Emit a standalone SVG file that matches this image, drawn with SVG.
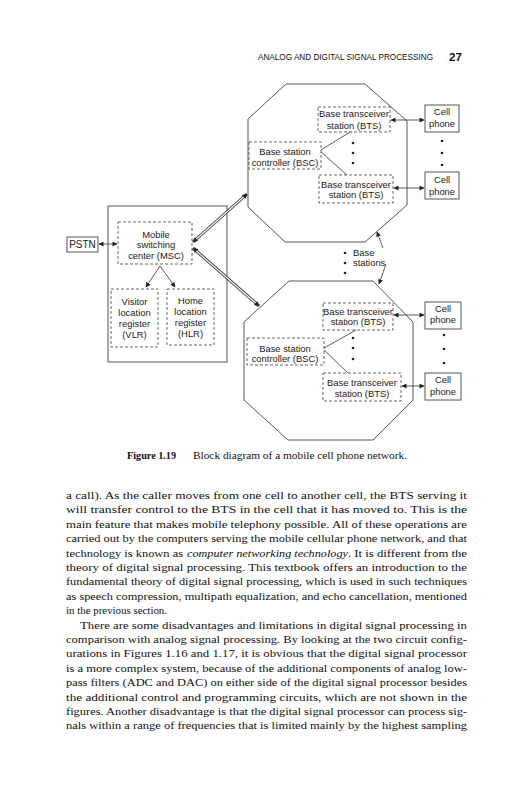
<svg xmlns="http://www.w3.org/2000/svg" width="528" height="800" viewBox="0 0 528 800">
<defs>
<marker id="ah" viewBox="0 0 10 10" refX="9" refY="5" markerWidth="6" markerHeight="5" markerUnits="userSpaceOnUse" orient="auto-start-reverse">
<path d="M0,0 L10,5 L0,10 z" fill="#222"/>
</marker>
<style>
.d{font-family:"Liberation Sans",Arial,sans-serif;font-size:9.4px;fill:#222;text-anchor:middle}
.b{font-family:"Liberation Serif","Times New Roman",serif;font-size:10.9px;fill:#111}
.dash{fill:none;stroke:#666;stroke-width:1;stroke-dasharray:3,2}
.solid{fill:none;stroke:#555;stroke-width:1}
.oct{fill:none;stroke:#444;stroke-width:0.9}
.ln{fill:none;stroke:#333;stroke-width:0.8}
.ar{fill:none;stroke:#333;stroke-width:0.8;marker-start:url(#ah);marker-end:url(#ah)}
.ar1{fill:none;stroke:#333;stroke-width:0.8;marker-end:url(#ah)}
.dbl{fill:none;stroke:#333;stroke-width:3}
.dbw{fill:none;stroke:#fff;stroke-width:1.2}
</style>
</defs>
<rect width="528" height="800" fill="#fff"/>

<!-- header -->
<text x="258" y="59.5" font-family="Liberation Sans,Arial,sans-serif" font-size="8.6" fill="#111" textLength="175" lengthAdjust="spacingAndGlyphs">ANALOG AND DIGITAL SIGNAL PROCESSING</text>
<text x="449" y="60.5" font-family="Liberation Sans,Arial,sans-serif" font-size="11.5" font-weight="bold" fill="#111">27</text>

<!-- octagons -->
<g id="cell-top">
<polygon class="oct" points="286,84 365,84 407,121 407,205 365,242 285,242 248,207 248,119"/>
</g>
<g id="cell-bottom">
<polygon class="oct" points="289,281 373,281 413,322 413,400 373,440 288,440 244,400 244,322"/>
</g>

<!-- MSC area -->
<g id="msc-area"><rect class="solid" x="108" y="206" width="119" height="156"/></g>
<g id="pstn"><rect class="solid" x="67" y="237" width="31" height="15"/><text class="d" x="82.5" y="248" style="font-size:10px">PSTN</text></g>
<g id="msc"><rect class="dash" x="118" y="222" width="74" height="42"/>
<text class="d" x="156" y="237.5">Mobile</text><text class="d" x="156" y="248">switching</text><text class="d" x="156" y="258.5">center (MSC)</text></g>
<g id="vlr"><rect class="dash" x="111" y="289" width="47" height="58"/>
<text class="d" x="134.5" y="304.5">Visitor</text><text class="d" x="134.5" y="315.5">location</text><text class="d" x="134.5" y="326.5">register</text><text class="d" x="134.5" y="337.5">(VLR)</text></g>
<g id="hlr"><rect class="dash" x="167" y="289" width="47" height="56"/>
<text class="d" x="190.5" y="303.5">Home</text><text class="d" x="190.5" y="314.5">location</text><text class="d" x="190.5" y="325.5">register</text><text class="d" x="190.5" y="336.5">(HLR)</text></g>

<!-- top cell contents -->
<g id="bts1"><rect class="dash" x="318" y="107" width="72" height="25"/>
<text class="d" x="354" y="116.5">Base transceiver</text><text class="d" x="354" y="129">station (BTS)</text></g>
<g id="bsc1"><rect class="dash" x="249" y="142" width="72" height="27"/>
<text class="d" x="285" y="154.5">Base station</text><text class="d" x="285" y="165.5">controller (BSC)</text></g>
<g id="bts2"><rect class="dash" x="319" y="175" width="74" height="28"/>
<text class="d" x="356" y="187.5">Base transceiver</text><text class="d" x="356" y="198">station (BTS)</text></g>
<g id="phone1"><rect class="solid" x="425" y="105" width="34" height="27"/>
<text class="d" x="442" y="115">Cell</text><text class="d" x="442" y="126.7">phone</text></g>
<g id="phone2"><rect class="solid" x="425" y="172" width="34" height="27"/>
<text class="d" x="442" y="183.3">Cell</text><text class="d" x="442" y="195">phone</text></g>

<!-- bottom cell contents -->
<g id="bts3"><rect class="dash" x="323" y="303" width="70" height="27"/>
<text class="d" x="358" y="315">Base transceiver</text><text class="d" x="358" y="325">station (BTS)</text></g>
<g id="bsc2"><rect class="dash" x="247" y="338" width="77" height="27"/>
<text class="d" x="285" y="351.5">Base station</text><text class="d" x="285" y="362">controller (BSC)</text></g>
<g id="bts4"><rect class="dash" x="323" y="373" width="78" height="28"/>
<text class="d" x="362" y="386">Base transceiver</text><text class="d" x="362" y="396.7">station (BTS)</text></g>
<g id="phone3"><rect class="solid" x="425" y="302" width="36" height="27"/>
<text class="d" x="443" y="311.7">Cell</text><text class="d" x="443" y="323.3">phone</text></g>
<g id="phone4"><rect class="solid" x="425" y="373" width="36" height="27"/>
<text class="d" x="443" y="383.3">Cell</text><text class="d" x="443" y="395">phone</text></g>

<!-- base stations label -->
<g id="base-stations-label">
<circle cx="345" cy="253" r="1.3" fill="#222"/><circle cx="345" cy="263" r="1.3" fill="#222"/><circle cx="345" cy="273" r="1.3" fill="#222"/>
<text x="353" y="256.3" font-family="Liberation Sans,Arial,sans-serif" font-size="9.4" fill="#222">Base</text>
<text x="353" y="266.3" font-family="Liberation Sans,Arial,sans-serif" font-size="9.4" fill="#222">stations</text>
</g>

<!-- dots -->
<g id="dots" fill="#222">
<circle cx="353" cy="143" r="1.3"/><circle cx="353" cy="153" r="1.3"/><circle cx="353" cy="163" r="1.3"/>
<circle cx="442" cy="141" r="1.3"/><circle cx="442" cy="153" r="1.3"/><circle cx="442" cy="165" r="1.3"/>
<circle cx="353" cy="338" r="1.3"/><circle cx="353" cy="348" r="1.3"/><circle cx="353" cy="359" r="1.3"/>
<circle cx="444" cy="335" r="1.3"/><circle cx="444" cy="349" r="1.3"/><circle cx="444" cy="363" r="1.3"/>
</g>

<!-- connectors -->
<g id="connectors">
<line class="ar" x1="99" y1="244" x2="117" y2="244"/>
<line class="ar1" x1="160" y1="266" x2="146" y2="287"/>
<line class="ar1" x1="160" y1="266" x2="175" y2="287"/>
<line class="dbl" x1="193" y1="242" x2="247" y2="194"/>
<line class="dbw" x1="193" y1="242" x2="247" y2="194"/>
<line class="ar" x1="193" y1="242" x2="247" y2="194" stroke-opacity="0"/>
<line class="dbl" x1="193" y1="248" x2="259" y2="306"/>
<line class="dbw" x1="193" y1="248" x2="259" y2="306"/>
<line class="ar" x1="193" y1="248" x2="259" y2="306" stroke-opacity="0"/>
<line class="ln" x1="321" y1="150" x2="350" y2="132"/>
<line class="ln" x1="321" y1="152" x2="347" y2="175"/>
<line class="ln" x1="324" y1="348" x2="356" y2="330"/>
<line class="ln" x1="324" y1="350" x2="348" y2="373"/>
<line class="ar" x1="391" y1="120" x2="424" y2="120"/>
<line class="ar" x1="394" y1="188" x2="424" y2="188"/>
<line class="ar" x1="394" y1="315" x2="424" y2="315"/>
<line class="ar" x1="402" y1="386" x2="424" y2="386"/>
<line class="ar1" x1="383" y1="248" x2="377" y2="232"/>
<line class="ar1" x1="386" y1="264" x2="379" y2="284"/>
</g>

<!-- caption -->
<text x="127" y="459" font-family="Liberation Serif,Times New Roman,serif" font-size="10.2" font-weight="bold" fill="#111">Figure 1.19</text>
<text x="193" y="459" font-family="Liberation Serif,Times New Roman,serif" font-size="10.2" fill="#111" textLength="214" lengthAdjust="spacingAndGlyphs">Block diagram of a mobile cell phone network.</text>

<!-- body text -->
<g id="body">
<text class="b" x="66" y="499" textLength="401" lengthAdjust="spacingAndGlyphs">a call). As the caller moves from one cell to another cell, the BTS serving it</text>
<text class="b" x="66" y="513.4" textLength="401" lengthAdjust="spacingAndGlyphs">will transfer control to the BTS in the cell that it has moved to. This is the</text>
<text class="b" x="66" y="527.8" textLength="401" lengthAdjust="spacingAndGlyphs">main feature that makes mobile telephony possible. All of these operations are</text>
<text class="b" x="66" y="542.2" textLength="401" lengthAdjust="spacingAndGlyphs">carried out by the computers serving the mobile cellular phone network, and that</text>
<text class="b" x="66" y="556.6" textLength="117" lengthAdjust="spacingAndGlyphs">technology is known as</text>
<text class="b" x="187" y="556.6" textLength="161" lengthAdjust="spacingAndGlyphs" font-style="italic">computer networking technology</text>
<text class="b" x="348" y="556.6" textLength="119" lengthAdjust="spacingAndGlyphs">. It is different from the</text>
<text class="b" x="66" y="571" textLength="401" lengthAdjust="spacingAndGlyphs">theory of digital signal processing. This textbook offers an introduction to the</text>
<text class="b" x="66" y="585.4" textLength="401" lengthAdjust="spacingAndGlyphs">fundamental theory of digital signal processing, which is used in such techniques</text>
<text class="b" x="66" y="599.8" textLength="401" lengthAdjust="spacingAndGlyphs">as speech compression, multipath equalization, and echo cancellation, mentioned</text>
<text class="b" x="66" y="614.2">in the previous section.</text>
<text class="b" x="80" y="628.6" textLength="387" lengthAdjust="spacingAndGlyphs">There are some disadvantages and limitations in digital signal processing in</text>
<text class="b" x="66" y="643" textLength="401" lengthAdjust="spacingAndGlyphs">comparison with analog signal processing. By looking at the two circuit config-</text>
<text class="b" x="66" y="657.4" textLength="401" lengthAdjust="spacingAndGlyphs">urations in Figures 1.16 and 1.17, it is obvious that the digital signal processor</text>
<text class="b" x="66" y="671.8" textLength="401" lengthAdjust="spacingAndGlyphs">is a more complex system, because of the additional components of analog low-</text>
<text class="b" x="66" y="686.2" textLength="401" lengthAdjust="spacingAndGlyphs">pass filters (ADC and DAC) on either side of the digital signal processor besides</text>
<text class="b" x="66" y="700.6" textLength="401" lengthAdjust="spacingAndGlyphs">the additional control and programming circuits, which are not shown in the</text>
<text class="b" x="66" y="715" textLength="401" lengthAdjust="spacingAndGlyphs">figures. Another disadvantage is that the digital signal processor can process sig-</text>
<text class="b" x="66" y="729.4" textLength="401" lengthAdjust="spacingAndGlyphs">nals within a range of frequencies that is limited mainly by the highest sampling</text>
</g>
</svg>
